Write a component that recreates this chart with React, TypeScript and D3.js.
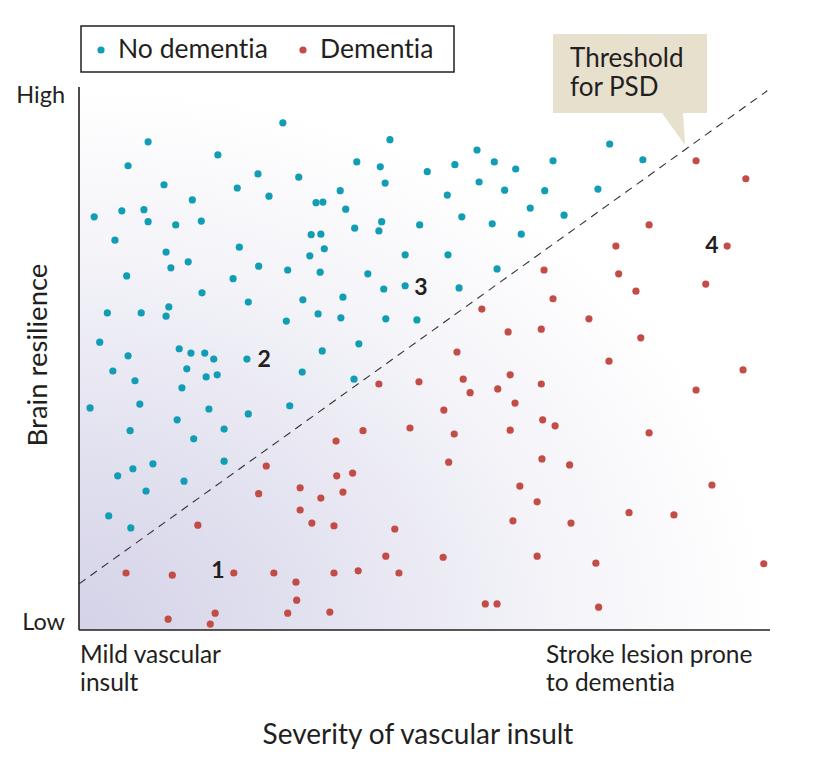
import React from 'react';
import * as d3 from 'd3';

// Data: severity of vascular insult (x, 0-100) vs brain resilience (y, 0-100)
const noDementia: [number, number][] = [
  [29.5, 93.4], [10.0, 89.9], [20.1, 87.5], [7.1, 85.5], [25.9, 84.0], [31.8, 83.4], [12.3, 82.0], [22.9, 81.4],
  [27.5, 79.9], [16.4, 79.2], [2.2, 76.1], [6.2, 77.2], [9.4, 77.4], [10.0, 75.2], [14.0, 74.6], [17.7, 75.3],
  [5.2, 71.8], [12.6, 69.6], [23.2, 70.5], [15.8, 67.8], [13.3, 66.7], [26.0, 67.0], [30.2, 66.3], [6.9, 65.2],
  [22.3, 64.7], [45.0, 90.3], [40.2, 86.2], [43.6, 85.3], [44.3, 82.3], [50.4, 84.4], [54.4, 85.7], [57.6, 88.4],
  [60.1, 86.2], [63.2, 84.9], [68.6, 86.4], [57.9, 82.5], [61.6, 81.0], [67.4, 80.9], [37.8, 80.9], [34.3, 78.7],
  [35.3, 78.8], [38.6, 77.5], [53.3, 80.1], [55.4, 76.1], [65.3, 77.7], [59.8, 74.8], [64.0, 72.9], [43.8, 75.2],
  [43.4, 73.5], [39.9, 74.0], [49.3, 74.6], [33.6, 72.8], [35.0, 72.9], [35.5, 70.2], [33.4, 68.9], [47.2, 69.1],
  [53.4, 69.1], [34.9, 65.9], [41.8, 65.6], [60.5, 66.5], [17.8, 62.1], [24.5, 60.4], [32.4, 60.8], [4.1, 58.4],
  [9.0, 58.4], [13.0, 59.5], [12.6, 57.8], [30.0, 56.9], [3.0, 53.0], [7.1, 50.5], [14.5, 51.8], [16.2, 51.0],
  [18.2, 51.0], [19.5, 49.9], [24.3, 49.9], [32.3, 47.5], [4.9, 47.7], [8.1, 45.9], [15.6, 48.1], [18.4, 46.6],
  [20.0, 47.0], [14.9, 44.6], [1.6, 40.9], [8.8, 41.6], [18.8, 40.7], [24.5, 39.8], [30.5, 41.3], [14.2, 38.7],
  [7.4, 36.7], [21.0, 37.0], [16.6, 35.2], [44.1, 62.8], [47.2, 63.4], [55.0, 63.0], [38.2, 61.3], [34.6, 58.2],
  [37.9, 57.5], [44.4, 57.3], [48.9, 57.1], [40.5, 52.7], [35.2, 51.4], [39.8, 46.2], [70.2, 76.4], [76.8, 89.5],
  [81.6, 86.6], [75.1, 81.2], [21.0, 31.1], [5.6, 28.4], [7.8, 29.7], [10.7, 30.6], [15.2, 27.4], [9.7, 25.6],
  [4.3, 21.0], [7.5, 18.8],
];

const dementia: [number, number][] = [
  [67.3, 66.3], [58.3, 59.1], [68.6, 61.0], [62.1, 54.9], [66.9, 55.4], [54.7, 51.2], [43.4, 45.3], [49.2, 45.7],
  [55.6, 46.2], [56.6, 43.7], [60.6, 44.4], [62.4, 47.0], [66.9, 45.3], [63.1, 41.8], [52.8, 40.5], [67.1, 38.7],
  [68.9, 37.6], [41.1, 36.7], [47.9, 37.2], [54.3, 36.1], [62.4, 36.8], [37.2, 34.8], [82.5, 74.6], [77.7, 70.7],
  [93.8, 70.7], [78.1, 65.6], [80.6, 62.4], [90.7, 63.7], [73.8, 57.3], [81.3, 53.8], [76.7, 49.5], [96.1, 47.9],
  [89.3, 44.2], [82.5, 36.3], [89.3, 86.4], [96.5, 83.1], [67.0, 31.5], [71.0, 30.4], [91.6, 26.7], [66.3, 23.6],
  [79.6, 21.6], [86.1, 21.2], [71.2, 19.7], [66.3, 13.6], [74.8, 12.3], [99.1, 12.2], [75.2, 4.2], [53.5, 30.9],
  [37.3, 28.4], [39.6, 28.9], [38.2, 25.4], [35.0, 24.3], [63.8, 26.5], [33.7, 19.7], [36.9, 19.2], [45.7, 18.6],
  [62.8, 20.1], [44.4, 13.6], [52.7, 13.4], [36.9, 10.5], [40.4, 10.9], [46.3, 10.5], [58.8, 4.8], [60.5, 4.8],
  [36.3, 3.3], [27.1, 30.2], [26.0, 25.1], [32.0, 26.2], [32.0, 22.1], [17.2, 19.3], [6.8, 10.5], [13.5, 10.1],
  [22.4, 10.5], [28.2, 10.5], [31.4, 8.8], [31.5, 5.5], [30.2, 3.1], [19.7, 3.1], [12.9, 2.0], [19.0, 1.1],
];

const threshold: [number, number][] = [[0, 8.5], [99.6, 99.3]];

const regionLabels = ['1', '2', '3', '4'];
const regionX = [20.1, 26.8, 49.5, 91.6];
const regionY = [11.1, 49.9, 63.2, 70.9];

const legendLabels = ['No dementia', 'Dementia'];
const yEndLabels = ['Low', 'High'];
const xEndLabels = [['Mild vascular', 'insult'], ['Stroke lesion prone', 'to dementia']];
const xTitle = 'Severity of vascular insult';
const yTitle = 'Brain resilience';
const calloutLines = ['Threshold', 'for PSD'];

const TEAL = '#119db3';
const RED = '#c44c47';
const INK = '#231f20';
const FONT = 'Lato, "Open Sans", sans-serif';

export default function App() {
  const W = 834, H = 765;
  const x = d3.scaleLinear().domain([0, 100]).range([79, 770]);
  const y = d3.scaleLinear().domain([0, 100]).range([630, 87]);
  const line = d3.line<[number, number]>().x(d => x(d[0])).y(d => y(d[1]));
  const colors = [TEAL, RED];
  const legendX = [101, 303];

  return (
    <svg width={W} height={H}
      style={{ position: 'absolute', left: 0, top: 0, background: '#fff', fontVariantLigatures: 'none', fontFeatureSettings: '"liga" 0' }}
      fontFamily={FONT}>
      <defs>
        <radialGradient id="bg" cx="0" cy="1" r="1" fx="0" fy="1">
          <stop offset="0" stopColor="#d4d2e7" />
          <stop offset="0.35" stopColor="#e3e2f0" />
          <stop offset="0.7" stopColor="#f4f4f9" />
          <stop offset="1" stopColor="#ffffff" />
        </radialGradient>
      </defs>
      <rect x={x(0)} y={y(100)} width={x(100) - x(0)} height={y(0) - y(100)} fill="url(#bg)" />

      {/* threshold line */}
      <path d={line(threshold) || ''} fill="none" stroke="#333" strokeWidth={1.1} strokeDasharray="8 6" />

      {/* points */}
      {noDementia.map((d, i) => (
        <circle key={'n' + i} cx={x(d[0])} cy={y(d[1])} r={3.6} fill={TEAL} />
      ))}
      {dementia.map((d, i) => (
        <circle key={'d' + i} cx={x(d[0])} cy={y(d[1])} r={3.6} fill={RED} />
      ))}

      {/* region numbers */}
      {regionLabels.map((l, i) => (
        <text key={l} x={x(regionX[i])} y={y(regionY[i])} dy="0.36em" textAnchor="middle"
          fontSize={23} fontWeight={700} fill={INK}>{l}</text>
      ))}

      {/* axes */}
      <line x1={x(0)} x2={x(0)} y1={y(100)} y2={y(0)} stroke={INK} strokeWidth={1.6} />
      <line x1={x(0)} x2={x(100)} y1={y(0)} y2={y(0)} stroke={INK} strokeWidth={1.6} />

      {/* y end labels */}
      <text x={65} y={y(0) - 8} dy="0.36em" textAnchor="end" fontSize={23.5} fill={INK}>{yEndLabels[0]}</text>
      <text x={65} y={95} dy="0.36em" textAnchor="end" fontSize={23.5} fill={INK}>{yEndLabels[1]}</text>
      <text transform={`translate(37,${355}) rotate(-90)`} textAnchor="middle" dy="0.36em" fontSize={27.5} fill={INK}>{yTitle}</text>

      {/* x end labels */}
      {xEndLabels[0].map((t, i) => (
        <text key={'a' + i} x={80} y={663 + i * 28} fontSize={24.5} fill={INK}>{t}</text>
      ))}
      {xEndLabels[1].map((t, i) => (
        <text key={'b' + i} x={546} y={663 + i * 28} fontSize={24.5} fill={INK}>{t}</text>
      ))}
      <text x={418} y={744} textAnchor="middle" fontSize={28} fill={INK}>{xTitle}</text>

      {/* legend */}
      <rect x={81} y={26} width={373} height={46} fill="#fff" stroke={INK} strokeWidth={1.5} />
      {legendLabels.map((l, i) => (
        <g key={l}>
          <circle cx={legendX[i]} cy={50} r={3.6} fill={colors[i]} />
          <text x={legendX[i] + 17} y={58} fontSize={26.5} fill={INK}>{l}</text>
        </g>
      ))}

      {/* callout */}
      <path d="M553,34 H707 V113 H683 L685,145 L662,113 H553 Z" fill="#e6e0cd" />
      {calloutLines.map((t, i) => (
        <text key={t} x={570} y={67 + i * 29} fontSize={26} fill={INK}>{t}</text>
      ))}
    </svg>
  );
}
